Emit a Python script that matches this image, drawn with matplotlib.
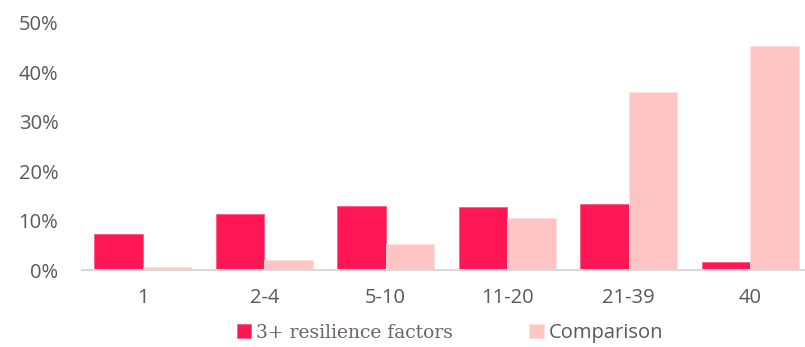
import numpy as np
from matplotlib import pyplot as plt

categories = ['1', '2-4', '5-10', '11-20', '21-39', '40']
resilience = [7.3, 11.3, 13.0, 12.8, 13.3, 1.6]
comparison = [0.6, 2.0, 5.3, 10.5, 36.0, 45.3]

red = '#FF1654'
pink = '#FFC4C4'
grey = '#595959'

plt.rcParams['font.family'] = ['Open Sans', 'DejaVu Sans']

fig = plt.figure(figsize=(8.05, 3.47), dpi=100)
ax = fig.add_axes([82 / 805, 77 / 347, 729 / 805, 247 / 347])

x = np.arange(len(categories))
w = 0.4
b1 = ax.bar(x - w / 2, resilience, w, color=red, edgecolor='#FF5C85',
            linewidth=0.6, label='3+ resilience factors')
b2 = ax.bar(x + w / 2, comparison, w, color=pink, edgecolor='#FFE0E0',
            linewidth=0.6, label='Comparison')

ax.set_xlim(-0.5, len(categories) - 0.5)
ax.set_ylim(0, 50)
ax.set_yticks(range(0, 51, 10))
ax.set_yticklabels([f'{v}%' for v in range(0, 51, 10)])
ax.set_xticks(x)
ax.set_xticklabels(categories)
ax.tick_params(length=0, labelsize=14.5, labelcolor=grey)
ax.tick_params(axis='y', pad=17)
ax.tick_params(axis='x', pad=13)

for side in ['top', 'right', 'left']:
    ax.spines[side].set_visible(False)
ax.spines['bottom'].set_color('#D9D9D9')
ax.spines['bottom'].set_linewidth(1.5)

leg = fig.legend(handles=[b1, b2], loc='center', ncol=2,
                 bbox_to_anchor=(450 / 805, 14 / 347), frameon=False,
                 fontsize=14.5, handlelength=0.7, handleheight=0.7,
                 handletextpad=0.25, columnspacing=3.8, borderpad=0)
texts = leg.get_texts()
texts[0].set_fontfamily(['DejaVu Serif'])
texts[0].set_color('#6E6266')
texts[0].set_fontsize(13.5)
texts[1].set_color(grey)

fig.savefig('out.png', dpi=100)
